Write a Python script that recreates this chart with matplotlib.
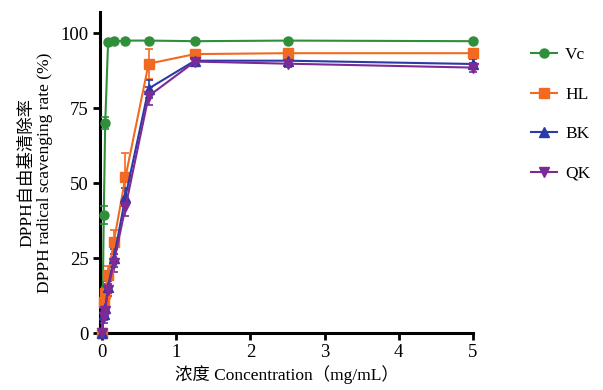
import matplotlib
matplotlib.use("Agg")
import matplotlib.pyplot as plt
from matplotlib.lines import Line2D

conc = [0, 0.0195, 0.039, 0.078, 0.156, 0.3125, 0.625, 1.25, 2.5, 5]
vc = [0, 39.5, 70.0, 97.0, 97.3, 97.5, 97.5, 97.3, 97.5, 97.3]
vc_err = [0, 3, 2, 0.5, 0.5, 0.5, 0.5, 0.5, 0.5, 0.5]
hl = [0, 10.5, 13.5, 19.5, 30.5, 52.0, 89.8, 93.0, 93.3, 93.3]
hl_err = [0, 2, 2, 3, 4, 8, 5, 1, 0.8, 0.8]
bk = [0, 6.5, 8.5, 15.5, 25.0, 45.5, 81.5, 90.8, 90.8, 89.7]
bk_err = [0, 2, 2, 2, 3, 3, 3, 1, 1, 1.5]
qk = [0, 5.5, 7.5, 14.5, 23.5, 42.0, 79.0, 90.5, 89.8, 88.5]
qk_err = [0, 2, 2, 2, 3, 3, 3, 1, 1, 1.5]

series = [("Vc", vc, vc_err, "#2f8f3a", "o"),
          ("HL", hl, hl_err, "#f26a22", "s"),
          ("BK", bk, bk_err, "#2b3aa6", "^"),
          ("QK", qk, qk_err, "#7b2a96", "v")]

plt.rcParams['font.family'] = ['Liberation Serif', 'Noto Sans CJK SC']

fig = plt.figure(figsize=(6.03, 3.90), dpi=100)
ax = fig.add_axes([0.166, 0.146, 0.618, 0.823])

handles = []
for name, y, e, c, m in series:
    ax.errorbar(conc, y, yerr=e, color=c, marker=m, markersize=6.5, lw=1.5,
                capsize=3, elinewidth=1.2, capthick=1.2, clip_on=False, zorder=3)
    handles.append(Line2D([], [], color=c, marker=m, markersize=6.5, lw=1.5, label=name))

ax.set_xlim(-0.03, 5)
ax.set_ylim(0, 107)
ax.set_xticks([0, 1, 2, 3, 4, 5])
ax.set_yticks([0, 25, 50, 75, 100])
for s in ['top', 'right']:
    ax.spines[s].set_visible(False)
for s in ['left', 'bottom']:
    ax.spines[s].set_linewidth(2.2)
ax.tick_params(axis='both', width=2, length=5, labelsize=13.5, direction='out', pad=3)

ax.set_xlabel("浓度 Concentration（mg/mL）", fontsize=12.5, labelpad=3)
ax.set_ylabel("DPPH自由基清除率\nDPPH radical scavenging rate (%)", fontsize=12.5, labelpad=6, linespacing=1.1)

ax.legend(handles=handles, loc='upper left', bbox_to_anchor=(1.115, 0.94), frameon=False, fontsize=12.5,
          labelspacing=1.35, handlelength=1.5, handletextpad=0.45)

fig.savefig("out.png", dpi=100)
